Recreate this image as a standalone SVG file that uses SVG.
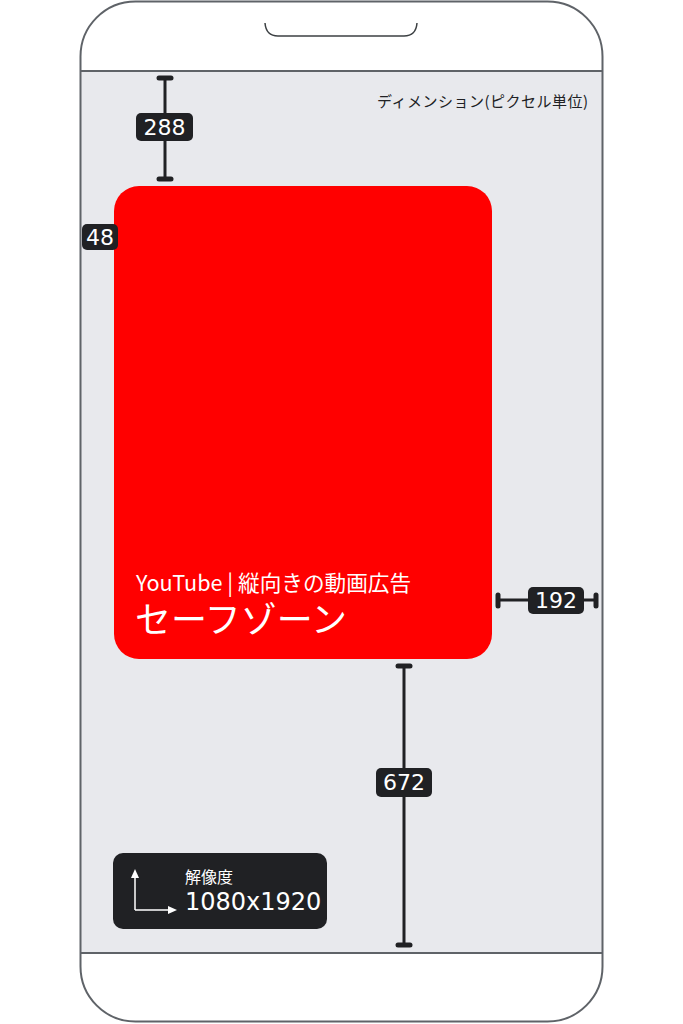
<svg xmlns="http://www.w3.org/2000/svg" width="683" height="1024" viewBox="0 0 683 1024">
<style>
.dim{stroke:#202124;stroke-width:3;fill:none}
.cap{stroke:#202124;stroke-width:5;stroke-linecap:round}
.lbl{fill:#202124}
.num{font-family:"DejaVu Sans",sans-serif;font-size:22px;fill:#ffffff;text-anchor:middle}
.jp{font-family:"Noto Sans CJK JP",sans-serif}
</style>
<rect x="0" y="0" width="683" height="1024" fill="#ffffff"/>
<g id="phone">
<rect x="80.5" y="71" width="522" height="882" fill="#e8e9ed"/>
<rect x="80.5" y="1.5" width="522" height="1020" rx="55" ry="55" fill="none" stroke="#5f6368" stroke-width="2"/>
<line x1="80.5" y1="71" x2="602.5" y2="71" stroke="#5f6368" stroke-width="2"/>
<line x1="80.5" y1="953" x2="602.5" y2="953" stroke="#5f6368" stroke-width="2"/>
<path d="M265 23 Q266 36 278 36 L404 36 Q416 36 417 23" fill="none" stroke="#3c4043" stroke-width="1.5"/>
</g>
<g id="title">
<text x="377" y="107" class="jp" font-size="15" fill="#202124" textLength="211" lengthAdjust="spacing">ディメンション(ピクセル単位)</text>
</g>
<g id="safezone">
<rect x="114" y="186" width="378" height="473" rx="25" ry="25" fill="#ff0000"/>
<text x="136" y="591" class="jp" font-size="22" fill="#ffffff" textLength="275" lengthAdjust="spacingAndGlyphs">YouTube | 縦向きの動画広告</text>
<text x="135" y="633" class="jp" font-size="36" fill="#ffffff">セーフゾーン</text>
</g>
<g id="connectors">
<line class="dim" x1="165" y1="78" x2="165" y2="179"/>
<line class="cap" x1="159" y1="78" x2="171" y2="78"/>
<line class="cap" x1="159" y1="179" x2="171" y2="179"/>
<line class="dim" x1="498" y1="600" x2="596" y2="600"/>
<line class="cap" x1="498" y1="595" x2="498" y2="606"/>
<line class="cap" x1="596" y1="595" x2="596" y2="606"/>
<line class="dim" x1="404" y1="666" x2="404" y2="945"/>
<line class="cap" x1="398" y1="666" x2="410" y2="666"/>
<line class="cap" x1="398" y1="945" x2="410" y2="945"/>
</g>
<g id="label-288">
<rect class="lbl" x="136" y="113" width="57" height="28" rx="5"/>
<text class="num" x="164.5" y="135">288</text>
</g>
<g id="label-48">
<rect class="lbl" x="82" y="224" width="36" height="26" rx="5"/>
<text class="num" x="100" y="245">48</text>
</g>
<g id="label-192">
<rect class="lbl" x="528" y="587" width="56" height="27" rx="5"/>
<text class="num" x="556" y="608">192</text>
</g>
<g id="label-672">
<rect class="lbl" x="376" y="768" width="56" height="29" rx="5"/>
<text class="num" x="404" y="790">672</text>
</g>
<g id="resolution">
<rect x="113" y="853" width="214" height="76" rx="10" fill="#202124"/>
<path d="M135 910 L135 876 M135 910 L170 910" stroke="#ffffff" stroke-width="1.5" fill="none"/>
<path d="M131 878 L135 869 L139 878 Z" fill="#ffffff"/>
<path d="M168 906 L177 910 L168 914 Z" fill="#ffffff"/>
<text x="185" y="883" class="jp" font-size="16" fill="#ffffff">解像度</text>
<text x="185" y="910" font-family="DejaVu Sans,sans-serif" font-size="24" fill="#ffffff">1080x1920</text>
</g>
</svg>
